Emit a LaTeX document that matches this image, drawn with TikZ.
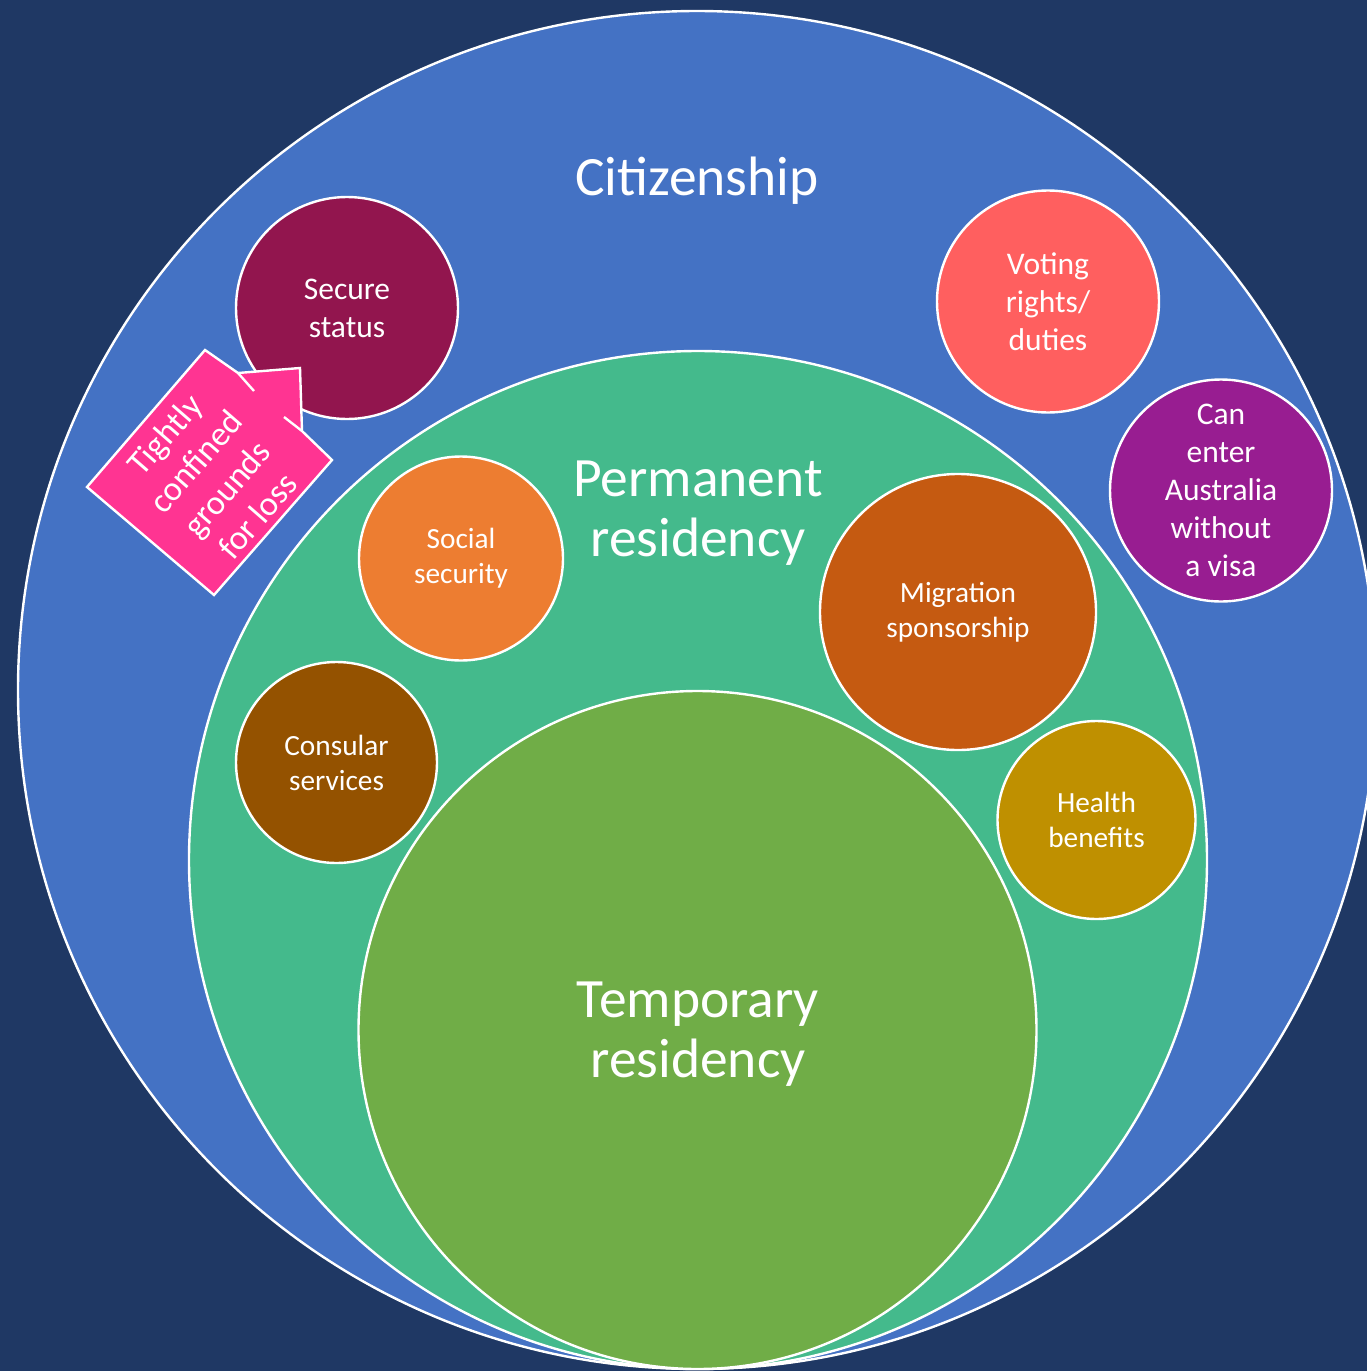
\documentclass[tikz,border=0pt]{standalone}
\usepackage{fontspec}
\setmainfont{Carlito}
\definecolor{navy}{HTML}{1F3864}
\definecolor{citblue}{HTML}{4472C4}
\definecolor{permgreen}{HTML}{44BA8C}
\definecolor{tempgreen}{HTML}{70AD47}
\definecolor{securered}{HTML}{92154E}
\definecolor{votingred}{HTML}{FF5F5F}
\definecolor{visapurple}{HTML}{981D91}
\definecolor{socialorange}{HTML}{ED7D31}
\definecolor{migrationorange}{HTML}{C55A11}
\definecolor{consularbrown}{HTML}{945200}
\definecolor{healthgold}{HTML}{BF9000}
\definecolor{losspink}{HTML}{FF3492}
\tikzset{
  ring/.style={circle, draw=white, line width=2.4pt, inner sep=0pt},
  bigtext/.style={text=white, align=center, inner sep=0pt, font=\fontsize{55.5}{60}\selectfont},
  outerbubble/.style={ring, text=white, align=center, font=\fontsize{31.5}{38}\selectfont},
  innerbubble/.style={ring, text=white, align=center, font=\fontsize{29.3}{35}\selectfont},
  losstext/.style={text=white, align=center, inner sep=0pt, font=\fontsize{34.5}{41}\selectfont}
}

\begin{document}
\begin{tikzpicture}[x=1pt, y=-1pt]
		%%%%% START %%%%%
		
		\fill[navy] (0,0) rectangle (1367,1371);
		\useasboundingbox (0,0) rectangle (1367,1371);
		\clip (0,0) rectangle (1367,1371);
		
		% nested status circles
		\node[ring, fill=citblue, minimum size=1358pt] (citizenship) at (697,690) {};
		\node[ring, fill=permgreen, minimum size=1018pt] (permanent) at (698,860) {};
		\node[ring, fill=tempgreen, minimum size=678pt] (temporary) at (697.5,1030) {};
		
		\node[bigtext] (citlabel) at (697,181) {Citizenship};
		\node[bigtext] (permlabel) at (698,513) {Permanent\\residency};
		\node[bigtext] (templabel) at (698,1034) {Temporary\\residency};
		
		% rights of citizens
		\node[outerbubble, fill=securered, minimum size=222pt] (secure) at (347,308) {Secure\\status};
		\node[outerbubble, fill=votingred, minimum size=222pt] (voting) at (1048,301.5) {Voting\\rights/\\duties};
		\node[outerbubble, fill=visapurple, minimum size=222pt] (visa) at (1221,490.5) {Can\\enter\\Australia\\without\\a visa};
		
		% rights of permanent residents
		\node[innerbubble, fill=socialorange, minimum size=204pt] (social) at (461,558.5) {Social\\security};
		\node[innerbubble, fill=migrationorange, minimum size=276pt] (migration) at (958,612) {Migration\\sponsorship};
		\node[innerbubble, fill=consularbrown, minimum size=201pt] (consular) at (336.5,762.5) {Consular\\services};
		\node[innerbubble, fill=healthgold, minimum size=198pt] (health) at (1096.5,820) {Health\\benefits};
		
		% callout arrow
		\coordinate (top) at (205,350);
		\coordinate (headl) at (238,373);
		\coordinate (tip) at (300,368);
		\coordinate (headr) at (302,431);
		\coordinate (right) at (332,460);
		\coordinate (bottom) at (214,595);
		\coordinate (left) at (87,487);
		\fill[losspink] (top) -- (headl) -- (tip) -- (headr) -- (right) -- (bottom) -- (left) -- cycle;
		\draw[white, line width=2.4pt, line join=miter] (top) -- (headl) -- (tip) -- (headr) -- (right) -- (bottom) -- (left) -- cycle;
		\draw[white, line width=2.4pt] (headl) -- (254,391);
		\draw[white, line width=2.4pt] (284,417) -- (headr);
		\node[losstext, rotate=49] (loss) at (211,475) {Tightly\\confined\\grounds\\for loss};
		
		%%%%% END %%%%%
	\end{tikzpicture}
\end{document}
